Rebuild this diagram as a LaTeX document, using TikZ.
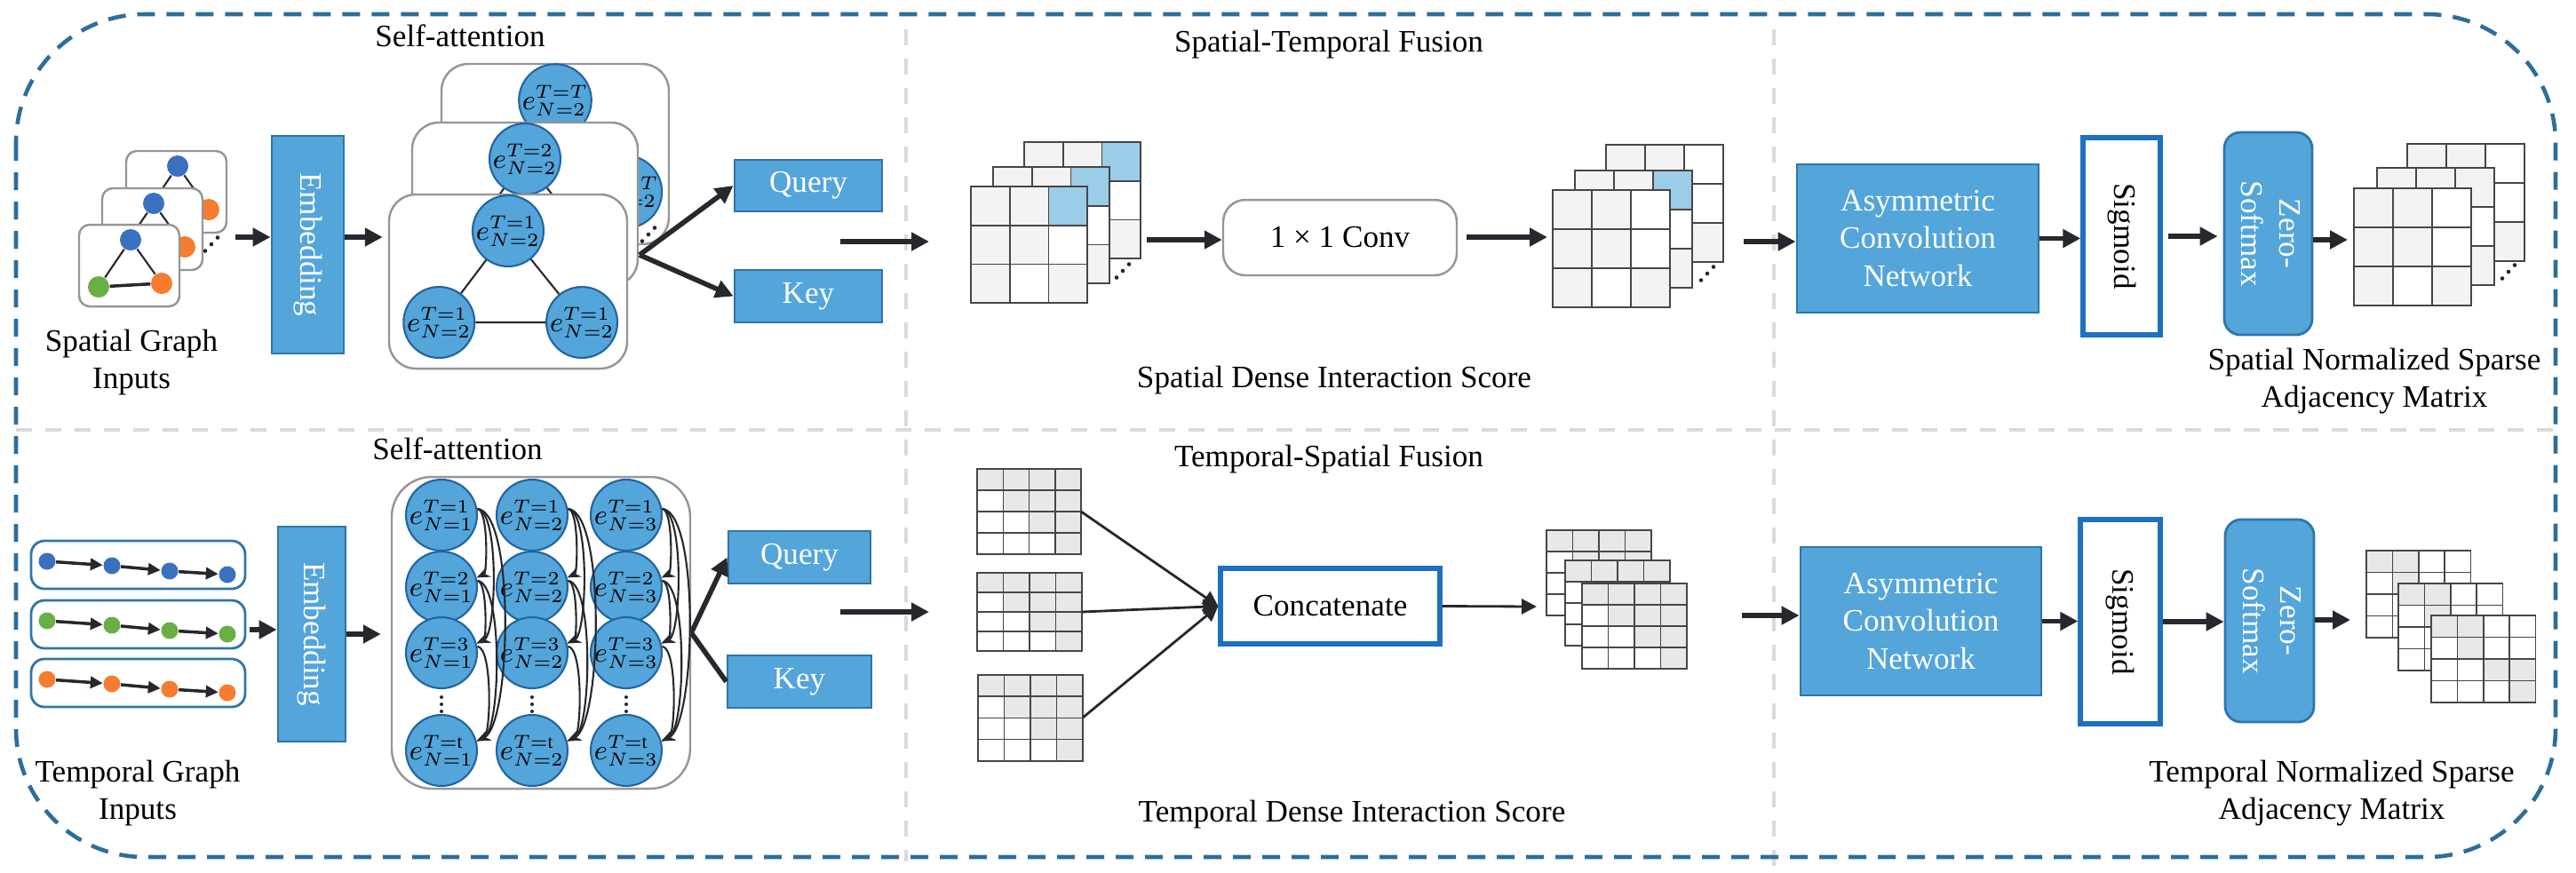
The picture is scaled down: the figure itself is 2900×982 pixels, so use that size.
\documentclass[tikz,border=0pt]{standalone}
\usepackage{fontspec}
\setmainfont{Liberation Serif}
\usepackage{graphicx}
\usetikzlibrary{arrows.meta}

\definecolor{bfill}{RGB}{83,165,218}
\definecolor{bdraw}{RGB}{47,117,170}
\definecolor{edraw}{RGB}{35,100,160}
\definecolor{wdraw}{RGB}{30,112,192}
\definecolor{outc}{RGB}{45,110,155}
\definecolor{sepc}{RGB}{218,218,218}
\definecolor{arrc}{RGB}{38,40,46}
\definecolor{cardc}{RGB}{150,150,150}
\definecolor{gridc}{RGB}{70,70,70}
\definecolor{sg}{RGB}{243,243,243}
\definecolor{sb}{RGB}{155,204,232}
\definecolor{tg}{RGB}{231,232,232}
\definecolor{nblue}{RGB}{58,112,190}
\definecolor{ngreen}{RGB}{106,175,70}
\definecolor{norange}{RGB}{246,124,48}

% x, y (top left), cell width, cell height, rows of cell colours
\newcommand{\cellgrid}[5]{%
  \foreach \row [count=\jj from 0] in {#5}{%
    \foreach \col [count=\ii from 0] in \row{%
      \filldraw[fill=\col, draw=gridc, line width=0.45pt] ({#1+\ii*#3},{#2+\jj*#4}) rectangle +(#3,#4);%
    }%
  }%
}
\newcommand{\dotsdiag}[2]{\foreach \k in {-1,0,1}{\fill[arrc] ({#1+7*\k},{#2-7.5*\k}) circle[radius=0.23mm];}}
\newcommand{\dotsvert}[2]{\foreach \k in {-1,0,1}{\fill[arrc] (#1,{#2+8*\k}) circle[radius=0.2mm];}}

\begin{document}
\begin{tikzpicture}[x=0.1mm, y=-0.1mm,
    font=\fontsize{10}{12}\selectfont,
    outer/.style={draw=outc, line width=1.3pt, dash pattern=on 2mm off 1.3mm, rounded corners=14.5mm},
    sep/.style={draw=sepc, line width=1.2pt, dash pattern=on 1.8mm off 1.5mm},
    thk/.style={draw=arrc, line width=1.6pt, -{Triangle[length=2mm,width=2mm]}},
    mid/.style={draw=arrc, line width=0.8pt, -{Triangle[length=1.7mm,width=1.7mm]}},
    sarr/.style={draw=arrc, line width=1pt, -{Triangle[length=1.4mm,width=1.3mm]}},
    carr/.style={draw=arrc, line width=0.6pt, -{Stealth[length=1.5mm,width=1.2mm]}, looseness=0.42},
    lnk/.style={draw=arrc, line width=0.6pt},
    blk/.style={draw=bdraw, fill=bfill, text=white, line width=0.8pt, inner sep=0pt, align=center},
    wbox/.style={draw=wdraw, fill=white, line width=1.5pt, inner sep=0pt, align=center},
    card/.style={draw=cardc, fill=white, line width=0.7pt, rounded corners=1.2mm, inner sep=0pt},
    seqbox/.style={draw=bdraw, fill=white, line width=0.8pt, rounded corners=1.5mm, minimum width=24.1mm, minimum height=5.4mm},
    en/.style={circle, draw=edraw, fill=bfill, line width=0.6pt, inner sep=0pt, minimum size=6.6mm, font=\fontsize{9}{10}\selectfont},
    dt/.style={circle, inner sep=0pt, minimum size=2.4mm},
    sd/.style={circle, inner sep=0pt, minimum size=1.9mm}]

\useasboundingbox (0,0) rectangle (2900,982);

% frame
\draw[sep] (18,484) -- (2877,484);
\draw[sep] (1020,33) -- (1020,970);
\draw[sep] (1997,33) -- (1997,975);
\draw[outer] (18,16) rectangle (2877,965);

% titles
\node (tSA1) at (518,40) {Self-attention};
\node (tSTF) at (1496,50) {Spatial-Temporal Fusion};
\node (tSA2) at (515,505) {Self-attention};
\node (tTSF) at (1496,517) {Temporal-Spatial Fusion};
\node[align=center] (tIn1) at (148,408) {Spatial Graph\\Inputs};
\node[align=center] (tIn2) at (155,893) {Temporal Graph\\Inputs};
\node (tDS1) at (1502,428) {Spatial Dense Interaction Score};
\node (tDS2) at (1522,917) {Temporal Dense Interaction Score};
\node[align=center] (tNS1) at (2673,429) {Spatial Normalized Sparse\\Adjacency Matrix};
\node[align=center] (tNS2) at (2625,893) {Temporal Normalized Sparse\\Adjacency Matrix};

% spatial inputs
\foreach \k/\xx/\yy in {c/142/170, b/115/212, a/89/253}{
  \node[card, minimum width=11.3mm, minimum height=9.2mm] (G\k) at (\xx+56.5,\yy+46) {};
  \node[dt, fill=nblue] (G\k-1) at (\xx+58,\yy+17) {};
  \node[dt, fill=ngreen] (G\k-2) at (\xx+22,\yy+70) {};
  \node[dt, fill=norange] (G\k-3) at (\xx+93,\yy+66) {};
  \draw[lnk] (G\k-1) -- (G\k-2) (G\k-1) -- (G\k-3);
  \draw[lnk, line width=1pt] (G\k-2) -- (G\k-3);
}
\dotsdiag{238}{275}

\node[blk, minimum width=8.1mm, minimum height=24.5mm] (Emb1) at (346.5,275.5) {\rotatebox{-90}{Embedding}};

% spatial self-attention (hidden nodes keep no label)
\foreach \k/\xx/\yy/\ww/\hh/\la/\lb/\lc in {%
    3/497/72/256/203/{$e^{T=T}_{N=2}$}/{}/{$e^{T=T}_{N=2}$},
    2/464/138/254/184/{$e^{T=2}_{N=2}$}/{}/{},
    1/438/219/268/196/{$e^{T=1}_{N=2}$}/{$e^{T=1}_{N=2}$}/{$e^{T=1}_{N=2}$}}{
  \node[card, rounded corners=3mm, minimum width=\ww*0.1mm, minimum height=\hh*0.1mm] (F\k) at (\xx+\ww/2,\yy+\hh/2) {};
  \node[en] (F\k-a) at (\xx+\ww/2,\yy+41) {\la};
  \node[en] (F\k-b) at (\xx+0.21*\ww,\yy+144) {\lb};
  \node[en] (F\k-c) at (\xx+0.81*\ww,\yy+144) {\lc};
  \draw[lnk] (F\k-a) -- (F\k-b) (F\k-a) -- (F\k-c) (F\k-b) -- (F\k-c);
}
\dotsdiag{730}{264}

\node[blk, minimum width=16.6mm, minimum height=5.8mm] (Q1) at (910,209) {Query};
\node[blk, minimum width=16.6mm, minimum height=5.9mm] (K1) at (910,333.5) {Key};

% spatial-temporal fusion
\cellgrid{1153}{160}{43.7}{43.7}{{sg,sg,sb},{sg,sg,white},{sg,white,sg}}
\cellgrid{1118}{188}{43.7}{43.7}{{sg,sg,sb},{sg,sg,white},{sg,white,sg}}
\cellgrid{1093}{210}{43.7}{43.7}{{sg,sg,sb},{sg,sg,white},{sg,white,sg}}
\dotsdiag{1264}{305}

\node[card, rounded corners=2.5mm, minimum width=26.3mm, minimum height=8.5mm] (Conv) at (1508.5,267.5) {1 × 1 Conv};

\cellgrid{1808}{163}{44}{44}{{sg,sg,white},{sg,sg,white},{sg,white,sg}}
\cellgrid{1773}{192}{44}{44}{{sg,sg,sb},{sg,sg,white},{sg,white,sg}}
\cellgrid{1748}{214}{44}{44}{{sg,sg,white},{sg,sg,white},{sg,white,sg}}
\dotsdiag{1922}{308}

\node[blk, minimum width=27.2mm, minimum height=16.7mm] (ACN1) at (2159,268.5) {Asymmetric\\Convolution\\Network};
\node[wbox, minimum width=8.7mm, minimum height=22.2mm] (Sig1) at (2388.5,266) {\rotatebox{-90}{Sigmoid}};
\node[blk, rounded corners=1.8mm, minimum width=9.9mm, minimum height=22.8mm] (Soft1) at (2553.5,263) {\rotatebox{-90}{\begin{tabular}{@{}c@{}}Zero-\\Softmax\end{tabular}}};

\cellgrid{2710}{162}{44}{44}{{sg,sg,white},{sg,sg,white},{sg,white,sg}}
\cellgrid{2676}{189}{44}{44}{{sg,sg,sg},{sg,sg,white},{sg,white,sg}}
\cellgrid{2650}{212}{44}{44}{{sg,sg,white},{sg,sg,white},{sg,white,sg}}
\dotsdiag{2824}{306}

% top arrows
\coordinate (a1s) at (265,267);
\coordinate (br1) at (720,287);
\coordinate (a3s) at (946,272);
\coordinate (a3e) at (1046,272);
\coordinate (a4s) at (1291,270);
\coordinate (a5e) at (1742,267);
\coordinate (a6s) at (1963,272);
\coordinate (a7e) at (2643,270);
\draw[thk] (a1s) -- (Emb1.west |- a1s);
\draw[thk, shorten >=0.6mm] (Emb1.east |- a1s) -- (F1.west |- a1s);
\draw[thk] (br1) -- (Q1.west);
\draw[thk] (br1) -- (K1.west);
\draw[thk] (a3s) -- (a3e);
\draw[thk] (a4s) -- (Conv.west |- a4s);
\draw[thk, shorten <=1mm] (Conv.east |- a5e) -- (a5e);
\draw[thk] (a6s) -- (ACN1.west |- a6s);
\draw[thk] (ACN1.east) -- (ACN1.east -| Sig1.west);
\draw[thk, shorten <=0.6mm, shorten >=0.6mm] (Sig1.east) -- (Sig1.east -| Soft1.west);
\draw[thk] (Soft1.east |- a7e) -- (a7e);

% temporal inputs
\foreach \rw/\cl/\yy in {1/nblue/609, 2/ngreen/676, 3/norange/742}{
  \node[seqbox] (In\rw) at (155.5,\yy+27) {};
  \node[sd, fill=\cl] (In\rw-1) at (53,\yy+23) {};
  \node[sd, fill=\cl] (In\rw-2) at (126,\yy+28) {};
  \node[sd, fill=\cl] (In\rw-3) at (191,\yy+34) {};
  \node[sd, fill=\cl] (In\rw-4) at (256,\yy+38) {};
  \draw[sarr] (In\rw-1) -- (In\rw-2);
  \draw[sarr] (In\rw-2) -- (In\rw-3);
  \draw[sarr] (In\rw-3) -- (In\rw-4);
}

\node[blk, minimum width=7.6mm, minimum height=24.2mm] (Emb2) at (351,714) {\rotatebox{-90}{Embedding}};

% temporal self-attention
\node[card, rounded corners=4.5mm, minimum width=33.6mm, minimum height=35.1mm] (TA) at (609,712.5) {};
\foreach \n/\xx in {1/497, 2/599, 3/705}{
  \foreach \tv/\k/\yy in {1/1/580, 2/2/661, 3/3/735, \mathrm{t}/4/845}{
    \node[en, minimum size=6mm] (E\n\k) at (\xx,\yy) {$e^{T=\tv}_{N=\n}$};
  }
  \dotsvert{\xx}{793}
}
\foreach \n in {1,2,3}{
  \foreach \a/\b in {1/2, 1/3, 1/4, 2/3, 2/4, 3/4}{
    \draw[carr] (E\n\a.10) to[out=-5, in=25] (E\n\b.15);
  }
}

\node[blk, minimum width=16mm, minimum height=5.9mm] (Q2) at (900,627.5) {Query};
\node[blk, minimum width=16.2mm, minimum height=5.9mm] (K2) at (900,767.5) {Key};

% temporal-spatial fusion
\cellgrid{1100}{528}{29.3}{24}{{tg,tg,tg,tg},{white,tg,tg,tg},{white,white,tg,tg},{white,white,white,tg}}
\cellgrid{1100}{645}{29.5}{22}{{tg,tg,tg,tg},{white,tg,tg,tg},{white,white,tg,tg},{white,white,white,tg}}
\cellgrid{1101}{760}{29.5}{24.2}{{tg,tg,tg,tg},{white,tg,tg,tg},{white,white,tg,tg},{white,white,white,tg}}

\node[wbox, minimum width=24.7mm, minimum height=8.5mm] (Cat) at (1497.5,682.5) {Concatenate};

\cellgrid{1741}{597}{29.5}{24}{{tg,tg,tg,tg},{white,tg,tg,tg},{white,white,tg,tg},{white,white,white,tg}}
\cellgrid{1762}{631}{29.5}{24}{{tg,tg,tg,tg},{white,tg,tg,tg},{white,white,tg,tg},{white,white,white,tg}}
\cellgrid{1781}{657}{29.5}{24}{{tg,tg,tg,tg},{white,tg,tg,tg},{white,white,tg,tg},{white,white,white,tg}}

\node[blk, minimum width=27.1mm, minimum height=16.7mm] (ACN2) at (2162.5,699.5) {Asymmetric\\Convolution\\Network};
\node[wbox, minimum width=9mm, minimum height=23mm] (Sig2) at (2387,700) {\rotatebox{-90}{Sigmoid}};
\node[blk, rounded corners=1.8mm, minimum width=10mm, minimum height=22.8mm] (Soft2) at (2555,699) {\rotatebox{-90}{\begin{tabular}{@{}c@{}}Zero-\\Softmax\end{tabular}}};

\cellgrid{2664}{620}{29.4}{24.5}{{tg,tg,white,white},{white,tg,white,white},{white,white,tg,tg},{white,white,white,tg}}
\cellgrid{2700}{657}{29.4}{24.5}{{tg,tg,white,white},{white,tg,white,white},{white,white,tg,tg},{white,white,white,tg}}
\cellgrid{2737}{693}{29.4}{24.5}{{tg,tg,white,white},{white,tg,white,white},{white,white,tg,tg},{white,white,white,tg}}

% bottom arrows
\coordinate (b1s) at (281,709);
\coordinate (b4s) at (946,689);
\coordinate (b4e) at (1046,689);
\coordinate (m1) at (1217,576);
\coordinate (m2) at (1218,689);
\coordinate (m3) at (1219,808);
\coordinate (b6e) at (1730,683);
\coordinate (b7s) at (1961,693);
\coordinate (b10e) at (2646,698);
\draw[thk] (b1s) -- (Emb2.west |- b1s);
\draw[thk, shorten >=1.1mm] (Emb2.east) -- (Emb2.east -| TA.west);
\draw[thk] (TA.east) -- (Q2.west);
\draw[thk, -] (TA.east) -- (K2.west);
\draw[thk] (b4s) -- (b4e);
\draw[mid] (m1) -- (Cat.west);
\draw[mid] (m2) -- (Cat.west);
\draw[mid] (m3) -- (Cat.west);
\draw[mid] (Cat.east) -- (b6e);
\draw[thk] (b7s) -- (ACN2.west |- b7s);
\draw[thk] (ACN2.east) -- (ACN2.east -| Sig2.west);
\draw[thk] (Sig2.east) -- (Sig2.east -| Soft2.west);
\draw[thk] (Soft2.east |- b10e) -- (b10e);

\end{tikzpicture}
\end{document}
